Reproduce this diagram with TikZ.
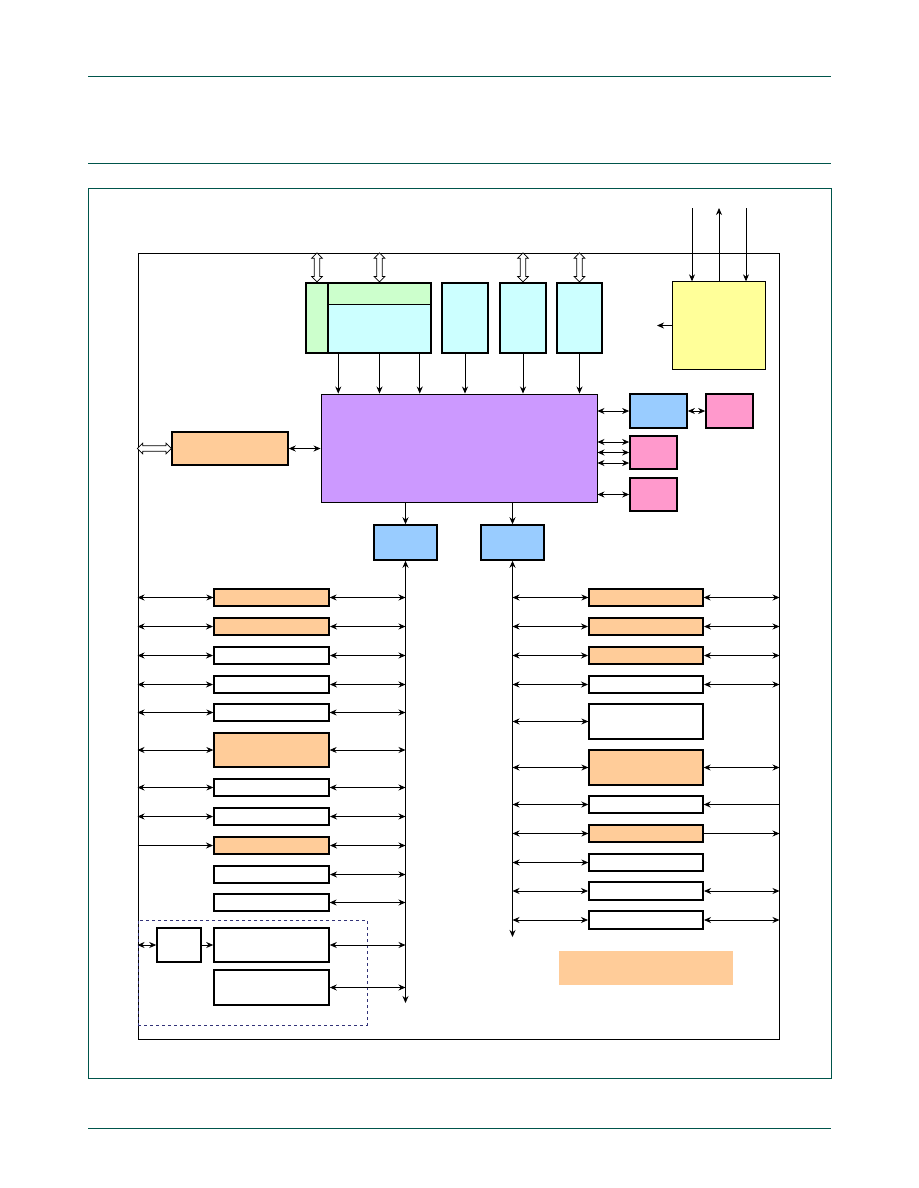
\documentclass[tikz,border=0pt]{standalone}
\usetikzlibrary{arrows.meta,fit,calc,shapes.arrows}
\definecolor{frm}{RGB}{0,85,75}
\definecolor{orng}{RGB}{255,204,153}
\definecolor{purp}{RGB}{204,153,255}
\definecolor{lblue}{RGB}{153,204,255}
\definecolor{pnk}{RGB}{255,153,204}
\definecolor{cyn}{RGB}{204,255,255}
\definecolor{grn}{RGB}{204,255,204}
\definecolor{yel}{RGB}{255,255,153}
\definecolor{dash}{RGB}{50,50,120}
\tikzset{
  bx/.style={draw, inner sep=0pt, line width=1.3pt},
  thk/.style={line width=2pt},
  ar/.style={-{Stealth[length=7pt,width=6pt]}, line width=0.8pt},
  dar/.style={{Stealth[length=7pt,width=6pt]}-{Stealth[length=7pt,width=6pt]}, line width=0.8pt},
  dbl/.style={double arrow, draw, fill=white, line width=0.7pt, inner sep=2.4pt,
    double arrow head extend=2.6pt, double arrow head indent=0pt, outer sep=0pt},
  frmline/.style={draw=frm, line width=1pt}
}
\newcommand\bx[6]{\node[bx,#6,fit={(#2,#3)(#4,#5)}] (#1) {};}
\begin{document}
\begin{tikzpicture}[x=1pt,y=-1pt]
\useasboundingbox (0,0) rectangle (918,1188);
% page frame
\coordinate (h1a) at (88,77); \coordinate (h1b) at (831,77);
\coordinate (h2a) at (88,163); \coordinate (h2b) at (831,163);
\coordinate (h3a) at (88,1128); \coordinate (h3b) at (831,1128);
\draw[frmline] (h1a) -- (h1b);
\draw[frmline] (h2a) -- (h2b);
\draw[frmline] (h3a) -- (h3b);
\node[frmline, inner sep=0pt, fit={(88,188)(831,1078)}] (F) {};
% inner box
\node[draw, inner sep=0pt, line width=1pt, fit={(138,253)(779,1039)}] (I) {};
% dashed group
\node[draw=dash, dashed, line width=0.8pt, inner sep=0pt, fit={(138,920)(367,1025)}] (D) {};
% top memory blocks
\bx{G}{306}{283}{328}{353}{fill=grn, line width=1.5pt}
\bx{M}{328}{283}{431}{353}{fill=cyn, line width=1.5pt}
\node[fill=grn, inner sep=0pt, fit={(329,284)(430,304)}] (MT) {};
\draw[line width=1pt] (MT.south west) -- (MT.south east);
\bx{C1}{442}{283}{488}{353}{fill=cyn, line width=1.5pt}
\bx{C2}{500}{283}{546}{353}{fill=cyn, line width=1.5pt}
\bx{C3}{557}{283}{602}{353}{fill=cyn, line width=1.5pt}
\bx{Y}{673}{282}{765}{369}{fill=yel, draw=none}
\draw[line width=0.9pt] (Y.south west) rectangle (Y.north east);
% open double arrows at top
\node[dbl, rotate=90, minimum height=29pt] (d1) at ($(G.north)!0.5!(G.north |- I.north)$) {};
\node[dbl, rotate=90, minimum height=29pt] (d2) at ($(M.north)!0.5!(M.north |- I.north)$) {};
\node[dbl, rotate=90, minimum height=29pt] (d3) at ($(C2.north)!0.5!(C2.north |- I.north)$) {};
\node[dbl, rotate=90, minimum height=29pt] (d4) at ($(C3.north)!0.5!(C3.north |- I.north)$) {};
% central processor
\bx{P}{321}{394}{597}{502}{fill=purp, line width=0.9pt}
\bx{O}{172}{432}{288}{465}{fill=orng, line width=1.5pt}
\node[dbl, minimum height=34pt] (d5) at ($(O.west -| I.west)!0.5!(O.west)$) {};
\draw[dar] (O.east) -- (O.east -| P.west);
% arrows into processor
\coordinate (a1) at ($(M.south west)+(11,0)$);
\coordinate (a3) at ($(M.south east)+(-12,0)$);
\draw[ar] (a1) -- (a1 |- P.north);
\draw[ar] (M.south) -- (M.south |- P.north);
\draw[ar] (a3) -- (a3 |- P.north);
\draw[ar] (C1.south) -- (C1.south |- P.north);
\draw[ar] (C2.south) -- (C2.south |- P.north);
\draw[ar] (C3.south) -- (C3.south |- P.north);
% yellow block arrows
\coordinate (ya1) at (692,208);
\coordinate (ya3) at (746,208);
\draw[ar] (ya1) -- (ya1 |- Y.north);
\draw[ar] (Y.north) -- (Y.north |- ya1);
\draw[ar] (ya3) -- (ya3 |- Y.north);
\coordinate (yl) at (657,325.5);
\draw[ar] (Y.west) -- (yl);
% right side blocks of processor
\bx{B3}{630}{394}{687}{428}{fill=lblue, line width=1.7pt}
\bx{K1}{706}{394}{753}{428}{fill=pnk, line width=1.7pt}
\bx{K2}{630}{436}{677}{469}{fill=pnk, line width=1.7pt}
\bx{K3}{630}{478}{677}{511}{fill=pnk, line width=1.7pt}
\draw[dar] (B3.west -| P.east) -- (B3.west);
\draw[dar] (B3.east) -- (K1.west);
\coordinate (k2a) at ($(K2.west)+(0,-10.5)$);
\coordinate (k2c) at ($(K2.west)+(0,10.5)$);
\draw[dar] (k2a -| P.east) -- (k2a);
\draw[dar, line width=1.3pt] (K2.west -| P.east) -- (K2.west);
\draw[dar] (k2c -| P.east) -- (k2c);
\draw[dar] (K3.west -| P.east) -- (K3.west);
% bridges
\bx{B1}{374}{525}{437}{560}{fill=lblue, line width=1.5pt}
\bx{B2}{481}{525}{544}{560}{fill=lblue, line width=1.5pt}
\draw[ar] (B1.north |- P.south) -- (B1.north);
\draw[ar] (B2.north |- P.south) -- (B2.north);
\coordinate (lbe) at (405.5,1003);
\coordinate (rbe) at (512.5,937);
\draw[dar] (B1.south) -- (lbe);
\draw[dar] (B2.south) -- (rbe);
% left peripherals
\bx{L1}{214}{589}{329}{606}{fill=orng}
\bx{L2}{214}{618}{329}{635}{fill=orng, thk}
\bx{L3}{214}{647}{329}{664}{fill=white, thk}
\bx{L4}{214}{676}{329}{693}{fill=white, thk}
\bx{L5}{214}{704}{329}{721}{fill=white}
\bx{L6}{214}{733}{329}{767}{fill=orng}
\bx{L7}{214}{779}{329}{796}{fill=white}
\bx{L8}{214}{808}{329}{825}{fill=white, thk}
\bx{L9}{214}{837}{329}{854}{fill=orng, thk}
\bx{L10}{214}{866}{329}{883}{fill=white, thk}
\bx{L11}{214}{894}{329}{911}{fill=white}
\bx{L12}{214}{928}{329}{962}{fill=white, line width=1.6pt}
\bx{L13}{214}{970}{329}{1005}{fill=white, line width=1.6pt}
\bx{SB}{157}{928}{201}{962}{fill=white, line width=1.5pt}
\foreach \n in {L1,L2,L3,L4,L5,L6,L7,L8}{
  \draw[dar] (\n.west -| I.west) -- (\n.west);
}
\draw[ar] (L9.west -| I.west) -- (L9.west);
\foreach \n in {L1,L2,L3,L4,L5,L6,L7,L8,L9,L10,L11,L12,L13}{
  \draw[dar] (\n.east) -- (\n.east -| B1.south);
}
\draw[dar] (SB.west -| I.west) -- (SB.west);
\draw[ar] (SB.east) -- (L12.west);
% right peripherals
\bx{R1}{589}{589}{703}{606}{fill=orng}
\bx{R2}{589}{618}{703}{635}{fill=orng, thk}
\bx{R3}{589}{647}{703}{664}{fill=orng, thk}
\bx{R4}{589}{676}{703}{693}{fill=white, thk}
\bx{R5}{589}{704}{703}{739}{fill=white}
\bx{R6}{589}{750}{703}{785}{fill=orng}
\bx{R7}{589}{796}{703}{813}{fill=white}
\bx{R8}{589}{825}{703}{842}{fill=orng}
\bx{R9}{589}{854}{703}{871}{fill=white}
\bx{R10}{589}{882}{703}{900}{fill=white, thk}
\bx{R11}{589}{911}{703}{929}{fill=white, thk}
\foreach \n in {R1,R2,R3,R4,R5,R6,R8,R9,R10,R11}{
  \draw[dar] (\n.west -| B2.south) -- (\n.west);
}
\draw[dar, line width=1.3pt] (R7.west -| B2.south) -- (R7.west);
\foreach \n in {R1,R2,R3,R4,R6,R10,R11}{
  \draw[dar] (\n.east) -- (\n.east -| I.east);
}
\draw[ar, line width=1.3pt] (R7.east -| I.east) -- (R7.east);
\draw[ar] (R8.east) -- (R8.east -| I.east);
% legend swatch
\node[fill=orng, inner sep=0pt, fit={(559,951)(733,985)}] (LG) {};
\end{tikzpicture}
\end{document}
